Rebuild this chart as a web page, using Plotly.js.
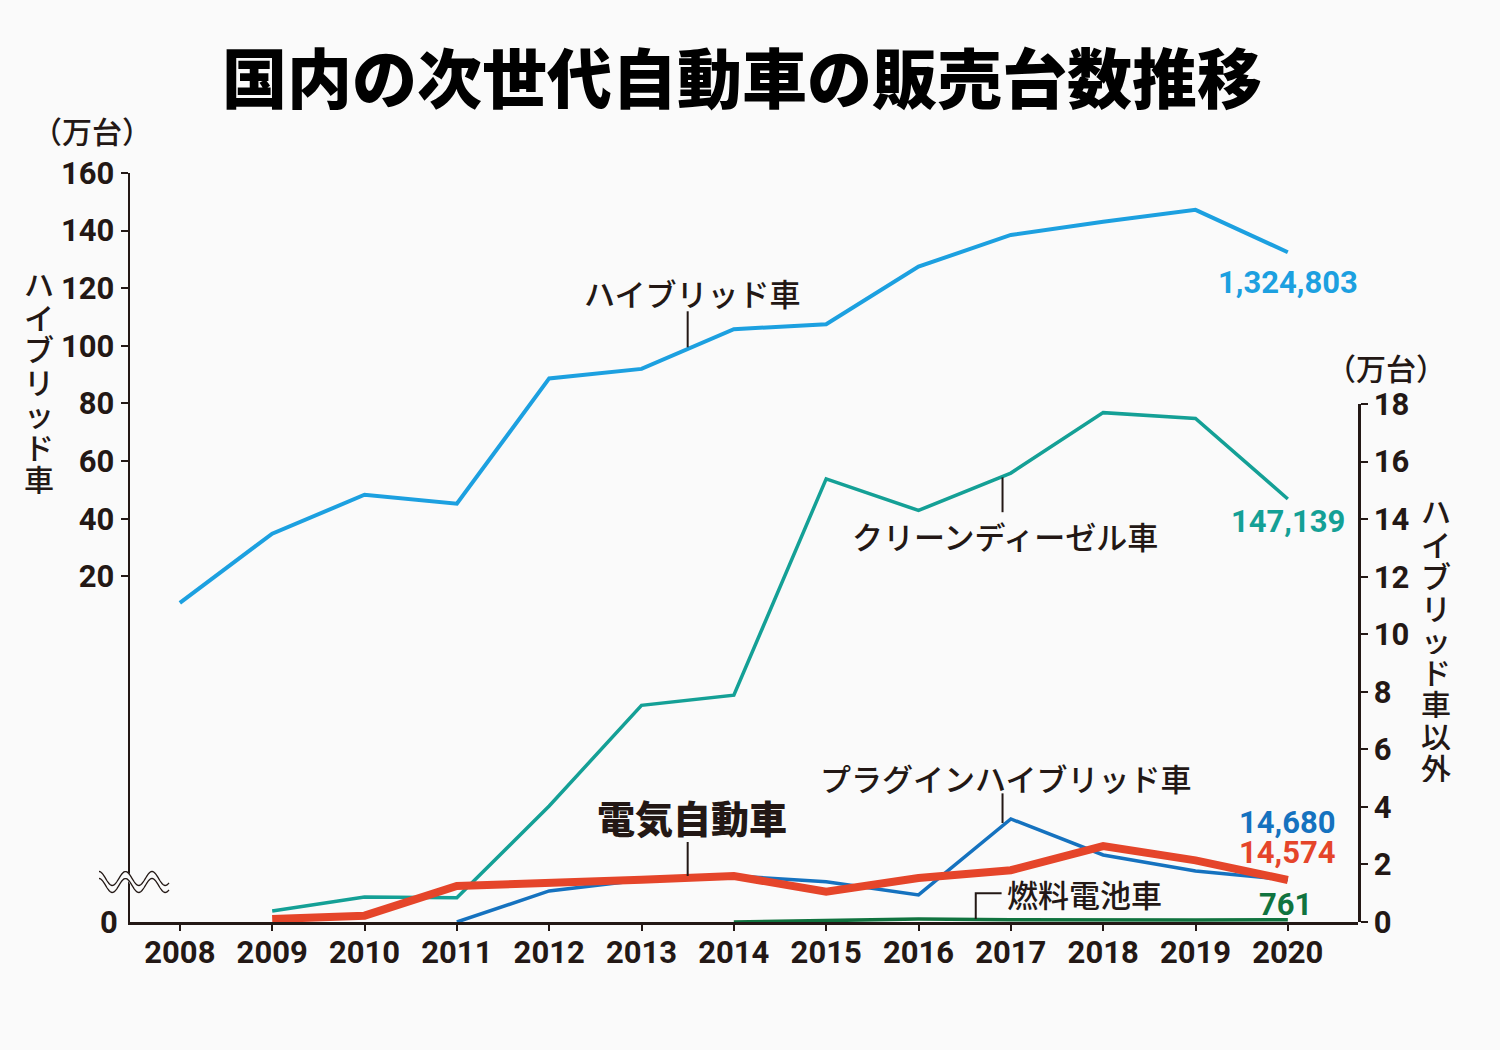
<!DOCTYPE html>
<html>
<head>
<meta charset="utf-8">
<script src="https://cdn.plot.ly/plotly-3.0.1.min.js"></script>
<style>
  body { margin: 0; background: #fafafa; }
</style>
</head>
<body>
<div id="myDiv" style="width:1500px;height:1050px;"></div>
<script>
// years on the x axis
var years = [2008, 2009, 2010, 2011, 2012, 2013, 2014, 2015, 2016, 2017, 2018, 2019, 2020]

// hybrid (left axis, 万台)
var hybrid = [10.8, 34.8, 48.3, 45.2, 88.7, 92.0, 105.8, 107.5, 127.5, 138.5, 143.1, 147.2, 132.5]

// everything else (right axis, 万台), null = no sales yet
var diesel = [null, 0.38, 0.87, 0.84, 4.03, 7.53, 7.88, 15.4, 14.3, 15.6, 17.7, 17.5, 14.7]
var phv    = [null, null, null, 0.0, 1.08, 1.46, 1.60, 1.40, 0.94, 3.58, 2.33, 1.77, 1.47]
var ev     = [null, 0.10, 0.22, 1.25, 1.33, 1.47, 1.60, 1.05, 1.53, 1.80, 2.64, 2.14, 1.46]
var fcv    = [null, null, null, null, null, null, 0.0, 0.04, 0.10, 0.08, 0.06, 0.07, 0.076]

var leftTicks = [20, 40, 60, 80, 100, 120, 140, 160]
var rightTicks = [0, 2, 4, 6, 8, 10, 12, 14, 16, 18]

var ink = '#231815'
var cHybrid = '#1ca0e0'
var cDiesel = '#14a096'
var cPhv = '#1572bf'
var cEv = '#e5452a'
var cFcv = '#10733f'

var numFont = 'Roboto, "Liberation Sans", sans-serif'
var jpFont = '"Noto Sans CJK JP", sans-serif'

// plot area in pixels (for decorations only)
var L = 130, R = 1358, T = 173, B = 922
function px(x) { return (x - L) / (R - L) }
function py(y) { return (B - y) / (B - T) }

var data = [
  {x: years, y: hybrid, type: 'scatter', mode: 'lines', name: 'ハイブリッド車',
   line: {color: cHybrid, width: 4}, yaxis: 'y'},
  {x: years, y: diesel, type: 'scatter', mode: 'lines', name: 'クリーンディーゼル車',
   line: {color: cDiesel, width: 3.5}, yaxis: 'y2'},
  {x: years, y: phv, type: 'scatter', mode: 'lines', name: 'プラグインハイブリッド車',
   line: {color: cPhv, width: 3.5}, yaxis: 'y2'},
  {x: years, y: fcv, type: 'scatter', mode: 'lines', name: '燃料電池車',
   line: {color: cFcv, width: 3.5}, yaxis: 'y2'},
  {x: years, y: ev, type: 'scatter', mode: 'lines', name: '電気自動車',
   line: {color: cEv, width: 8}, yaxis: 'y2'}
]

var annotations = []

function label(text, x, y, yref, opts) {
  opts = opts || {}
  annotations.push({
    text: text, x: x, y: y, xref: 'x', yref: yref, showarrow: false,
    xanchor: opts.xanchor || 'center', yanchor: 'middle',
    font: {family: opts.family || jpFont, size: opts.size || 31,
           color: opts.color || ink, weight: opts.weight || 500}
  })
}

// series names
label('ハイブリッド車', 2013.55, 118.5, 'y')
label('クリーンディーゼル車', 2016.94, 13.44, 'y2')
label('プラグインハイブリッド車', 2016.94, 5.03, 'y2')
label('電気自動車', 2013.55, 3.65, 'y2', {size: 38, weight: 900})
label('燃料電池車', 2017.8, 1.0, 'y2')

// end values
label('1,324,803', 2020, 122, 'y', {family: numFont, size: 31, color: cHybrid, weight: 700})
label('147,139', 2020, 13.9, 'y2', {family: numFont, size: 31, color: cDiesel, weight: 700})
label('14,680', 2020, 3.47, 'y2', {family: numFont, size: 31, color: cPhv, weight: 700})
label('14,574', 2020, 2.4, 'y2', {family: numFont, size: 31, color: cEv, weight: 700})
label('761', 2019.97, 0.6, 'y2', {family: numFont, size: 31, color: cFcv, weight: 700})

// unit labels
annotations.push({text: '（万台）', xref: 'paper', yref: 'paper', x: px(92), y: py(130),
  showarrow: false, xanchor: 'center', yanchor: 'middle',
  font: {family: jpFont, size: 30, color: ink, weight: 500}})
annotations.push({text: '（万台）', xref: 'paper', yref: 'paper', x: px(1386), y: py(367),
  showarrow: false, xanchor: 'center', yanchor: 'middle',
  font: {family: jpFont, size: 30, color: ink, weight: 500}})

// left "0" at the broken bottom of the hybrid axis
annotations.push({text: '0', xref: 'paper', yref: 'paper', x: px(120), y: 0,
  showarrow: false, xanchor: 'right', yanchor: 'middle',
  font: {family: numFont, size: 31, color: ink, weight: 700}})

// vertical axis titles, one glyph per line
var leftTitle = 'ハイブリッド車'.split('')
leftTitle.forEach(function (ch, i) {
  annotations.push({text: ch, xref: 'paper', yref: 'paper', x: px(39), y: py(283 + i * 32.5),
    showarrow: false, xanchor: 'center', yanchor: 'middle', height: 32,
    font: {family: jpFont, size: 30, color: ink, weight: 500}})
})
var rightTitle = 'ハイブリッド車以外'.split('')
rightTitle.forEach(function (ch, i) {
  annotations.push({text: ch, xref: 'paper', yref: 'paper', x: px(1436), y: py(510 + i * 32),
    showarrow: false, xanchor: 'center', yanchor: 'middle', height: 31,
    font: {family: jpFont, size: 30, color: ink, weight: 500}})
})

// leader lines
var lead = {color: ink, width: 2}
var shapes = [
  {type: 'line', xref: 'x', yref: 'y', x0: 2013.5, x1: 2013.5, y0: 99.5, y1: 112, line: lead},
  {type: 'line', xref: 'x', yref: 'y2', x0: 2016.91, x1: 2016.91, y0: 14.24, y1: 15.45, line: lead},
  {type: 'line', xref: 'x', yref: 'y2', x0: 2016.91, x1: 2016.91, y0: 3.44, y1: 4.47, line: lead},
  {type: 'line', xref: 'x', yref: 'y2', x0: 2013.5, x1: 2013.5, y0: 1.6, y1: 2.78, line: lead},
  {type: 'path', xref: 'x', yref: 'y2',
   path: 'M 2016.9 1.0 L 2016.62 1.0 L 2016.62 0.1', line: lead}
]

// axis break squiggle (white band + two wavy lines)
function wave(dy) {
  var d = ''
  for (var i = 0; i <= 70; i++) {
    var x = 99 + i
    var y = 882 + dy - 7 * Math.cos((x - 99) / 26.5 * 2 * Math.PI)
    d += (i === 0 ? 'M ' : ' L ') + px(x).toFixed(5) + ' ' + py(y).toFixed(5)
  }
  return d
}
shapes.push({type: 'path', xref: 'paper', yref: 'paper', path: wave(0),
  line: {color: '#fafafa', width: 6}, layer: 'above'})
shapes.push({type: 'path', xref: 'paper', yref: 'paper', path: wave(-3.5),
  line: {color: ink, width: 1.3}, layer: 'above'})
shapes.push({type: 'path', xref: 'paper', yref: 'paper', path: wave(3.5),
  line: {color: ink, width: 1.3}, layer: 'above'})

var tickFont = {family: numFont, size: 31, color: ink, weight: 700}

var layout = {
  width: 1500,
  height: 1050,
  paper_bgcolor: '#fafafa',
  plot_bgcolor: 'rgba(0,0,0,0)',
  showlegend: false,
  margin: {l: L, r: 1500 - R, t: T, b: 1050 - B, pad: 0},
  title: {
    text: '国内の次世代自動車の販売台数推移',
    x: 742 / 1500, xanchor: 'center',
    y: 1 - 80 / 1050, yanchor: 'middle',
    font: {family: jpFont, size: 65, color: '#000000', weight: 900}
  },
  xaxis: {
    range: [2007.46, 2020.76],
    tickvals: years,
    ticks: 'outside', ticklen: 6, tickwidth: 2, tickcolor: ink,
    ticklabelstandoff: -5,
    showline: true, linecolor: ink, linewidth: 2.5,
    showgrid: false, zeroline: false,
    tickfont: tickFont,
    anchor: 'y'
  },
  yaxis: {
    range: [-100, 160],
    tickvals: leftTicks,
    ticks: 'outside', ticklen: 7, tickwidth: 2, tickcolor: ink,
    showline: true, linecolor: ink, linewidth: 2.5,
    showgrid: false, zeroline: false,
    tickfont: tickFont,
    anchor: 'x'
  },
  yaxis2: {
    domain: [0, (B - 404) / (B - T)],
    range: [0, 18],
    tickvals: rightTicks,
    side: 'right',
    anchor: 'x',
    ticks: 'outside', ticklen: 7, tickwidth: 2, tickcolor: ink,
    showline: true, linecolor: ink, linewidth: 2.5,
    showgrid: false, zeroline: false,
    tickfont: tickFont
  },
  annotations: annotations,
  shapes: shapes
}

Plotly.newPlot('myDiv', data, layout, {displayModeBar: false, staticPlot: true})
</script>
</body>
</html>
